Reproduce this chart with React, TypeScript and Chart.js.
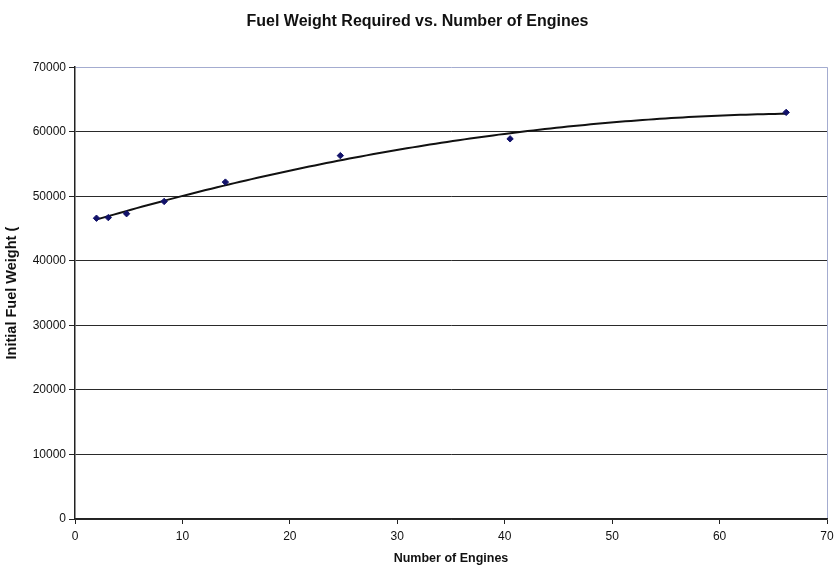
import React, { useEffect, useRef } from "react";
import { Chart, registerables } from "chart.js";

Chart.register(...registerables);

// Data
const engineCounts = [2, 3.1, 4.8, 8.3, 14, 24.7, 40.5, 66.2];
const fuelWeights = [46600, 46700, 47300, 49200, 52200, 56300, 58900, 63000];

const chartTitle = "Fuel Weight Required vs. Number of Engines";
const xAxisTitle = "Number of Engines";
const yAxisTitle = "Initial Fuel Weight (";

const xMin = 0;
const xMax = 70;
const xStep = 10;
const yMin = 0;
const yMax = 70000;
const yStep = 10000;

// Polynomial (order 2) least-squares trendline, as in the original spreadsheet chart
function quadraticFit(xs: number[], ys: number[]): [number, number, number] {
  let s0 = 0, s1 = 0, s2 = 0, s3 = 0, s4 = 0, t0 = 0, t1 = 0, t2 = 0;
  for (let i = 0; i < xs.length; i++) {
    const x = xs[i];
    const y = ys[i];
    s0 += 1; s1 += x; s2 += x * x; s3 += x * x * x; s4 += x * x * x * x;
    t0 += y; t1 += x * y; t2 += x * x * y;
  }
  const M = [
    [s0, s1, s2, t0],
    [s1, s2, s3, t1],
    [s2, s3, s4, t2],
  ];
  for (let c = 0; c < 3; c++) {
    let p = c;
    for (let r = c + 1; r < 3; r++) if (Math.abs(M[r][c]) > Math.abs(M[p][c])) p = r;
    [M[c], M[p]] = [M[p], M[c]];
    for (let r = 0; r < 3; r++) {
      if (r === c) continue;
      const f = M[r][c] / M[c][c];
      for (let k = c; k < 4; k++) M[r][k] -= f * M[c][k];
    }
  }
  return [M[0][3] / M[0][0], M[1][3] / M[1][1], M[2][3] / M[2][2]];
}

export default function App() {
  const canvasRef = useRef<HTMLCanvasElement | null>(null);

  useEffect(() => {
    if (!canvasRef.current) return;
    const [a, b, c] = quadraticFit(engineCounts, fuelWeights);
    const first = Math.min(...engineCounts);
    const last = Math.max(...engineCounts);
    const trend: { x: number; y: number }[] = [];
    const n = 120;
    for (let i = 0; i <= n; i++) {
      const x = first + ((last - first) * i) / n;
      trend.push({ x, y: a + b * x + c * x * x });
    }
    const points = engineCounts.map((x, i) => ({ x, y: fuelWeights[i] }));

    const font = "'Liberation Sans', Arial, sans-serif";
    const chart = new Chart(canvasRef.current, {
      type: "scatter",
      data: {
        datasets: [
          {
            label: "Fuel weight",
            data: points,
            order: 0,
            pointStyle: "rectRot",
            pointRadius: 3.2,
            backgroundColor: "#12126a",
            borderColor: "#12126a",
            borderWidth: 1,
          },
          {
            label: "Trend",
            type: "line",
            data: trend,
            order: 1,
            showLine: true,
            borderColor: "#111111",
            borderWidth: 2,
            pointRadius: 0,
            tension: 0,
            fill: false,
          } as any,
        ],
      },
      options: {
        animation: false,
        responsive: false,
        maintainAspectRatio: false,
        layout: { padding: { left: 0, right: 0, top: 0, bottom: 0 } },
        plugins: {
          legend: { display: false },
          tooltip: { enabled: false },
          title: {
            display: true,
            text: chartTitle,
            color: "#111",
            font: { family: font, size: 16, weight: "bold" },
            padding: { top: 12, bottom: 36 },
          },
        },
        scales: {
          x: {
            type: "linear",
            min: xMin,
            max: xMax,
            afterFit: (s: any) => {
              s.height = 47;
              s.paddingRight = 8;
              s.paddingLeft = 0;
            },
            ticks: {
              stepSize: xStep,
              color: "#111",
              padding: 5,
              font: { family: font, size: 12 },
            },
            grid: {
              color: (ctx: any) => (ctx.tick && ctx.tick.value === xMax ? "#a4acd0" : "rgba(0,0,0,0)"),
              tickColor: "#222",
              tickLength: 5,
              lineWidth: 1,
            },
            border: { display: true, color: "#222", width: 1.5 },
            title: {
              display: true,
              text: xAxisTitle,
              color: "#111",
              font: { family: font, size: 12.5, weight: "bold" },
              padding: { top: 0, bottom: 0 },
            },
          },
          y: {
            type: "linear",
            min: yMin,
            max: yMax,
            afterFit: (s: any) => { s.width = 75; },
            ticks: {
              stepSize: yStep,
              color: "#111",
              padding: 3,
              font: { family: font, size: 12 },
              callback: (v: any) => String(v),
            },
            grid: {
              color: (ctx: any) => (ctx.tick && ctx.tick.value === yMax ? "#a4acd0" : "#2a2a2a"),
              tickColor: "#222",
              tickLength: 6,
              lineWidth: 1,
            },
            border: { display: true, color: "#222", width: 1.5 },
            title: {
              display: true,
              text: yAxisTitle,
              color: "#111",
              font: { family: font, size: 14.5, weight: "bold" },
              padding: { top: 3.5, bottom: 0 },
            },
          },
        },
      },
    });
    return () => chart.destroy();
  }, []);

  return (
    <div style={{ position: "fixed", left: 0, top: 0, width: 835, height: 566, background: "#ffffff" }}>
      <canvas ref={canvasRef} width={835} height={566} style={{ width: 835, height: 566, display: "block" }} />
    </div>
  );
}
